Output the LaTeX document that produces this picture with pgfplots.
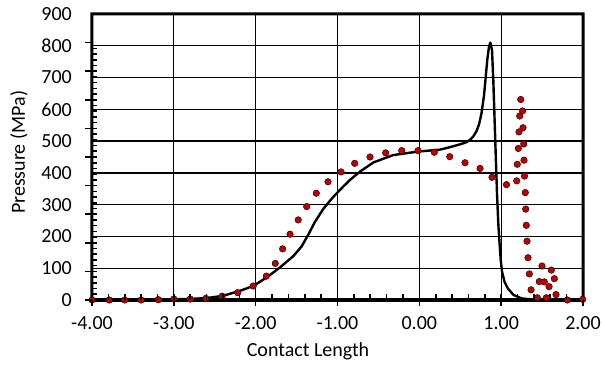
\documentclass[border=0pt]{standalone}
\usepackage{fontspec}
\setmainfont{Carlito}
\usepackage{pgfplots}
\pgfplotsset{compat=1.18}
\definecolor{dotred}{RGB}{192,0,0}
\begin{document}
\begin{tikzpicture}
\begin{axis}[
  scale only axis, width=491pt, height=286pt,
  xmin=-4, xmax=2, ymin=0, ymax=900,
  xtick={-4,-3,-2,-1,0,1,2}, ytick={0,100,200,300,400,500,600,700,800,900},
  xtick pos=left, ytick pos=left,
  grid=major, grid style={black, line width=1.3pt},
  axis line style={draw=none},
  major tick length=0pt,
  /pgf/number format/assume math mode=true,
  tick label style={font=\fontsize{20}{24}\selectfont, inner sep=0pt},
  xticklabel style={/pgf/number format/fixed, /pgf/number format/fixed zerofill, /pgf/number format/precision=2, anchor=north, yshift=-16pt},
  yticklabel style={anchor=east, xshift=-20pt},
  xlabel={Contact Length},
  ylabel={Pressure (MPa)},
  label style={font=\fontsize{20}{24}\selectfont},
  xlabel style={at={(axis description cs:0.44,-0.1993)}, anchor=base},
  ylabel style={at={(axis description cs:-0.1365,0.516)}, anchor=base},
  clip=false,
]
\fill[black, even odd rule]
  ([shift={(-1.6pt,-1.8pt)}]rel axis cs:0,0) rectangle ([shift={(1.6pt,1.6pt)}]rel axis cs:1,1)
  ([shift={(1.4pt,1.8pt)}]rel axis cs:0,0) rectangle ([shift={(-1.4pt,-1.4pt)}]rel axis cs:1,1);
\addplot[black, line width=2.4pt, line join=round] coordinates {
(-4,0.3) (-3.6,0.6) (-3.2,1.2) (-3.0,2) (-2.8,3.5) (-2.6,6) (-2.4,13) (-2.19,29)
(-2.03,44) (-1.865,71) (-1.70,103) (-1.54,138) (-1.44,168) (-1.36,204) (-1.275,246)
(-1.17,288) (-1.05,325) (-0.93,357) (-0.847,378) (-0.72,405) (-0.56,433) (-0.32,456)
(-0.02,467) (0.25,473) (0.375,481) (0.5,490) (0.58,497) (0.62,504) (0.66,515)
(0.70,532) (0.73,553) (0.76,588) (0.79,643) (0.81,698) (0.83,755) (0.85,795)
(0.867,810) (0.888,787) (0.904,692) (0.921,556) (0.937,430) (0.95,330)
(0.965,240) (0.98,180) (0.995,125) (1.01,90) (1.04,58) (1.08,37) (1.15,16)
(1.25,5) (1.4,1) (1.6,0) (2.0,0)
};
\addplot[only marks, mark=*, mark size=3.3pt, mark options={draw=none, fill=dotred}] coordinates {
(-4.00,0) (-3.79,0) (-3.60,0) (-3.40,0) (-3.19,1) (-3.00,3) (-2.80,3) (-2.61,5)
(-2.41,12) (-2.22,23) (-2.03,44) (-1.87,75) (-1.76,115) (-1.67,161) (-1.58,207)
(-1.48,252) (-1.376,294) (-1.259,336) (-1.116,372) (-0.957,403) (-0.79,430)
(-0.603,450) (-0.411,463) (-0.215,470) (-0.016,470) (0.183,465) (0.371,451)
(0.558,432) (0.742,414) (0.888,386) (1.065,363) (1.19,375) (1.285,390) (1.197,427)
(1.279,440) (1.21,477) (1.276,491) (1.218,529) (1.267,542) (1.227,579) (1.261,595)
(1.239,631) (1.295,338) (1.30,286) (1.307,235) (1.316,185) (1.328,133) (1.344,82)
(1.365,32) (1.442,7) (1.552,7) (1.67,17) (1.808,0) (1.996,2) (1.499,107) (1.613,94)
(1.65,67) (1.466,58) (1.527,57) (1.585,42)
};
\coordinate (sw) at (rel axis cs:0,0);
\coordinate (ne) at (rel axis cs:1,1);
\end{axis}
% axis furniture: tick marks
\foreach \i in {0,...,6} {
  \fill[black] ([shift={(\i*81.8333pt-0.8pt,0pt)}]sw) rectangle ++(1.6pt,-6.5pt);
}
\foreach \i in {1,...,29} {
  \fill[black] ([shift={(\i*16.3667pt-0.8pt,0pt)}]sw) rectangle ++(1.6pt,5.5pt);
}
\foreach \j in {0,...,9} {
  \fill[black] ([shift={(0pt,\j*28.6pt-0.8pt)}]sw) rectangle ++(-6.5pt,1.6pt);
}
\foreach \j in {1,...,44} {
  \fill[black] ([shift={(0pt,\j*5.72pt-0.8pt)}]sw) rectangle ++(5.5pt,1.6pt);
}
\pgfresetboundingbox
\path[use as bounding box] ([shift={(-92pt,-69pt)}]sw) rectangle ([shift={(22pt,14pt)}]ne);
\end{tikzpicture}
\end{document}
